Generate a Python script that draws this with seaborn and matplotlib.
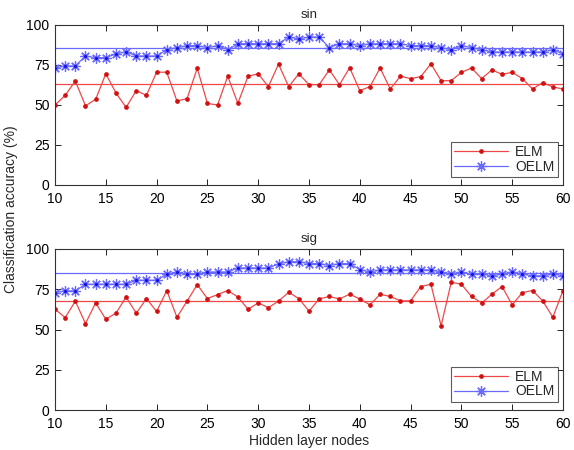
import matplotlib
matplotlib.use("Agg")
import matplotlib.pyplot as plt
import seaborn as sns
import numpy as np
import pandas as pd

nodes = list(range(10, 61))

elm_sin = [50, 56, 65, 49.5, 53.5, 69.5, 57.5, 48.5, 59, 56,
           70.5, 70.5, 52.5, 54, 73, 51, 50, 68, 51, 68,
           69.5, 61.5, 75.5, 61.5, 69.5, 62.7, 62.7, 71.9, 62.7, 73.3,
           59, 61.5, 73.1, 60, 68, 66.5, 67.7, 75.8, 65.2, 65.2,
           70.4, 73.1, 66.5, 71.9, 69.2, 70.4, 66.5, 60, 64, 61.3, 60]
oelm_sin = [73.1, 74.4, 74.4, 80.6, 79.6, 79.6, 81.9, 83.3, 80.6, 80.6,
            80.6, 84.6, 85.8, 87.1, 87.1, 85.8, 87.1, 84.6, 88.3, 88.3,
            88.3, 88.3, 88.3, 92.5, 91.3, 92.5, 92.5, 85.8, 88.3, 88.3,
            87.1, 88.3, 88.3, 88.3, 88.3, 87.1, 87.1, 87.1, 85.8, 84.6,
            87.1, 85.8, 84.6, 83.1, 83.1, 83.1, 83.1, 83.1, 83.1, 84.6, 81.9]
elm_sig = [62.6, 57.4, 67.6, 53.7, 66.5, 56.4, 60.1, 70.2, 60.1, 69.2,
           61.2, 74.2, 57.6, 67.6, 77.9, 69.2, 71.7, 74.2, 70.2, 62.6,
           66.5, 63.6, 67.6, 73.1, 69.2, 61.4, 69.0, 70.5, 69.0, 71.9,
           69.0, 65.3, 71.9, 70.5, 67.8, 67.8, 76.7, 78.1, 52.3, 79.3,
           78.1, 70.5, 66.5, 71.9, 76.7, 65.3, 72.9, 74.2, 67.8, 57.6, 74.2]
oelm_sig = [72.9, 74.0, 74.0, 78.1, 78.1, 78.1, 78.1, 78.1, 80.6, 80.6,
            80.6, 84.3, 85.7, 84.5, 84.5, 85.7, 85.7, 85.7, 88.2, 88.2,
            88.2, 88.2, 90.7, 92.1, 92.1, 90.9, 90.9, 89.7, 90.9, 90.9,
            87.2, 85.7, 87.0, 87.0, 87.0, 87.0, 87.0, 87.0, 85.7, 84.5,
            85.7, 84.5, 84.5, 83.3, 84.5, 85.7, 84.5, 83.3, 83.3, 84.5, 83.3]
ref_sin = {"ELM": 63.3, "OELM": 85.4}
ref_sig = {"ELM": 68.0, "OELM": 84.9}

titles = ["sin", "sig"]
series_names = ["ELM", "OELM"]
xticks = [10, 15, 20, 25, 30, 35, 40, 45, 50, 55, 60]
yticks = [0, 25, 50, 75, 100]

sns.set_theme(style="white")
plt.rcParams['font.family'] = ['Liberation Sans', 'DejaVu Sans']
plt.rcParams['font.size'] = 9

W, H = 574, 450
fig = plt.figure(figsize=(W / 100, H / 100), dpi=100)
ax1 = fig.add_axes([55 / W, 1 - 185 / H, 508 / W, 160 / H])
ax2 = fig.add_axes([55 / W, 1 - 410 / H, 508 / W, 161 / H])

red_line = "#f04848"
red_mk = "#d01010"
blue_line = "#6a6aff"
blue_mk = "#1010e0"
asterisk = (8, 2, 0)

datasets = [(ax1, elm_sin, oelm_sin, ref_sin, titles[0]),
            (ax2, elm_sig, oelm_sig, ref_sig, titles[1])]

for ax, elm, oelm, ref, title in datasets:
    df = pd.DataFrame({"nodes": nodes, "ELM": elm, "OELM": oelm})
    sns.lineplot(data=df, x="nodes", y="ELM", ax=ax, color=red_line, lw=0.9,
                 marker="o", markersize=2.6, markerfacecolor=red_mk,
                 markeredgecolor=red_mk, label="ELM")
    sns.lineplot(data=df, x="nodes", y="OELM", ax=ax, color=blue_line, lw=0.9,
                 marker=asterisk, markersize=7.5, markerfacecolor=blue_mk,
                 markeredgecolor=blue_line, markeredgewidth=0.9, label="OELM")
    sns.scatterplot(data=df, x="nodes", y="OELM", ax=ax, color=blue_mk, s=5,
                    linewidth=0, zorder=4, legend=False)
    ax.axhline(ref["ELM"], color=red_line, lw=0.9, zorder=1)
    ax.axhline(ref["OELM"], color=blue_line, lw=0.9, zorder=1)
    ax.set_xlim(10, 60)
    ax.set_ylim(0, 100)
    ax.set_xticks(xticks)
    ax.set_yticks(yticks)
    ax.tick_params(direction="in", length=4, width=0.7, top=True, right=True,
                   bottom=True, left=True, labelsize=10, colors="#222222",
                   labelcolor="black")
    ax.tick_params(axis="x", pad=5)
    ax.tick_params(axis="y", pad=4)
    for s in ax.spines.values():
        s.set_visible(True)
        s.set_color("#333333")
        s.set_linewidth(0.8)
    ax.set_title(title, fontsize=9.5, pad=5)
    ax.set_xlabel("")
    ax.set_ylabel("")
    leg = ax.legend(loc="lower right", fontsize=10, frameon=True, fancybox=False,
                    edgecolor="#333333", handlelength=3.9, borderpad=0.25,
                    labelspacing=0.02, handletextpad=0.5, borderaxespad=0,
                    bbox_to_anchor=(0.99, 0.05))
    leg.get_frame().set_linewidth(0.8)

ax2.set_xlabel("Hidden layer nodes", fontsize=10, labelpad=2)
fig.text(0.019, 0.535, "Classification accuracy (%)", rotation=90,
         va="center", ha="center", fontsize=10)

fig.savefig("out.png", dpi=100, facecolor="white")
